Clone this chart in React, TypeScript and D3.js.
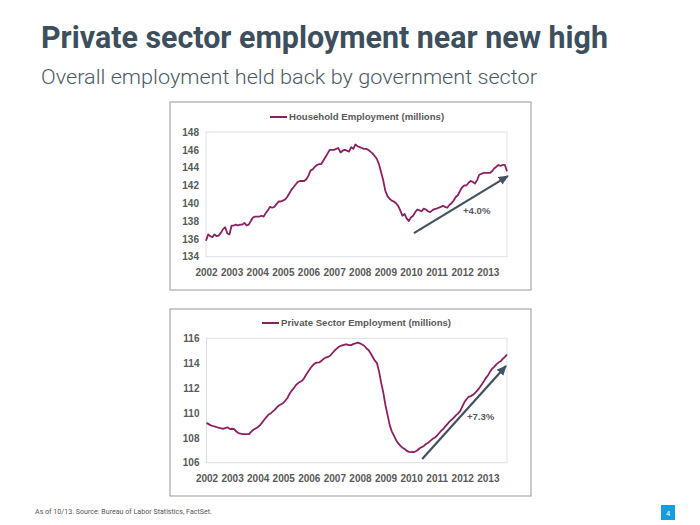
import { useEffect, useRef } from 'react'

import * as d3 from 'd3'

// Monthly values, Jan 2002 .. Oct 2013 (millions)
const householdEmployment = [
  135.8, 136.5, 136.3, 136.2, 136.5, 136.3, 136.4, 136.7, 137.1, 137.3, 136.6, 136.5, // 2002
  137.5, 137.5, 137.6, 137.5, 137.6, 137.6, 137.8, 137.5, 137.6, 138.0, 138.4, 138.5, // 2003
  138.5, 138.5, 138.6, 138.5, 138.9, 139.2, 139.6, 139.5, 139.6, 139.9, 140.2, 140.2, // 2004
  140.3, 140.4, 140.7, 141.1, 141.5, 141.8, 142.1, 142.4, 142.5, 142.5, 142.5, 142.7, // 2005
  143.1, 143.7, 143.8, 144.1, 144.3, 144.4, 144.4, 144.8, 145.2, 145.6, 146.0, 146.0, // 2006
  146.0, 146.1, 146.2, 145.7, 145.9, 146.0, 145.9, 145.8, 146.3, 146.1, 146.6, 146.4, // 2007
  146.3, 146.2, 146.1, 146.1, 146.0, 145.8, 145.6, 145.3, 145.0, 144.4, 143.5, 142.6, // 2008
  141.4, 140.8, 140.5, 140.3, 140.2, 140.0, 139.7, 139.2, 138.6, 138.8, 138.3, 138.0, // 2009
  138.4, 138.6, 139.0, 139.3, 139.2, 139.1, 139.4, 139.3, 139.1, 139.0, 139.2, 139.35, // 2010
  139.4, 139.5, 139.6, 139.7, 139.6, 139.5, 139.8, 140.0, 140.3, 140.7, 140.9, 141.4, // 2011
  141.8, 142.0, 142.0, 142.3, 142.5, 142.4, 142.2, 142.6, 143.2, 143.3, 143.4, 143.4, // 2012
  143.4, 143.4, 143.6, 143.9, 144.1, 144.3, 144.2, 144.3, 144.3, 143.6, // 2013
]

const privateEmployment = [
  109.2, 109.1, 109.0, 108.95, 108.9, 108.85, 108.8, 108.75, 108.73, 108.8, 108.84, 108.7, // 2002
  108.73, 108.7, 108.5, 108.38, 108.33, 108.3, 108.3, 108.3, 108.3, 108.5, 108.65, 108.75, // 2003
  108.85, 109.0, 109.2, 109.43, 109.65, 109.85, 109.95, 110.1, 110.25, 110.45, 110.6, 110.7, // 2004
  110.8, 111.0, 111.2, 111.55, 111.8, 112.0, 112.25, 112.4, 112.5, 112.6, 112.85, 113.15, // 2005
  113.4, 113.65, 113.85, 114.0, 114.05, 114.07, 114.2, 114.35, 114.45, 114.5, 114.6, 114.8, // 2006
  115.0, 115.15, 115.3, 115.4, 115.45, 115.5, 115.5, 115.45, 115.45, 115.55, 115.6, 115.65, // 2007
  115.6, 115.5, 115.4, 115.2, 115.06, 114.8, 114.5, 114.2, 114.0, 113.3, 112.4, 111.6, // 2008
  110.6, 109.8, 109.0, 108.5, 108.15, 107.8, 107.55, 107.35, 107.2, 107.1, 106.95, 106.87, // 2009
  106.85, 106.86, 106.9, 107.0, 107.16, 107.25, 107.35, 107.5, 107.6, 107.75, 107.9, 108.0, // 2010
  108.15, 108.35, 108.55, 108.7, 108.9, 109.1, 109.3, 109.45, 109.6, 109.8, 109.95, 110.15, // 2011
  110.5, 110.85, 111.1, 111.3, 111.35, 111.45, 111.6, 111.8, 112.0, 112.25, 112.5, 112.8, // 2012
  113.0, 113.3, 113.55, 113.7, 113.9, 114.05, 114.15, 114.35, 114.5, 114.7, // 2013
]

const yearLabels = ['2002', '2003', '2004', '2005', '2006', '2007', '2008', '2009', '2010', '2011', '2012', '2013']
const householdTicks = [134, 136, 138, 140, 142, 144, 146, 148]
const privateTicks = [106, 108, 110, 112, 114, 116]

// trend arrows: [month index, value] start -> end
const householdArrow: [number, number][] = [[97.4, 136.65], [141.4, 143.05]]
const privateArrow: [number, number][] = [[101.2, 106.3], [140.5, 113.77]]
const householdChange = { label: '+4.0%', at: [120.4, 138.85] }
const privateChange = { label: '+7.3%', at: [122.2, 109.47] }

const LINE = '#8b2062'
const ARROW = '#44525f'
const LABEL = '#595959'
const FONT = '"Liberation Sans", Arial, sans-serif'

type Panel = {
  box: { x: number; y: number; w: number; h: number }
  plot: { left: number; right: number; top: number; bottom: number }
  domain: [number, number]
  ticks: number[]
  legend: string
  legendX: number
  legendY: number
  values: number[]
  arrow: [number, number][]
  change: { label: string; at: number[] }
}

const panels: Panel[] = [
  {
    box: { x: 170, y: 102, w: 361, h: 188 },
    plot: { left: 206, right: 507, top: 132, bottom: 256.7 },
    domain: [134, 148],
    ticks: householdTicks,
    legend: 'Household Employment (millions)',
    legendX: 270,
    legendY: 117,
    values: householdEmployment,
    arrow: householdArrow,
    change: householdChange,
  },
  {
    box: { x: 170, y: 309, w: 361, h: 187 },
    plot: { left: 206.5, right: 507, top: 338.3, bottom: 462.7 },
    domain: [106, 116],
    ticks: privateTicks,
    legend: 'Private Sector Employment (millions)',
    legendX: 262,
    legendY: 323,
    values: privateEmployment,
    arrow: privateArrow,
    change: privateChange,
  },
]

const App = () => {
  const ref = useRef<SVGSVGElement>(null)

  useEffect(() => {
    const svg = d3.select(ref.current)
    svg.selectAll('*').remove()

    svg.append('rect').attr('width', 700).attr('height', 525).attr('fill', '#fff')

    // arrow head
    svg
      .append('defs')
      .append('marker')
      .attr('id', 'head')
      .attr('markerUnits', 'userSpaceOnUse')
      .attr('viewBox', '0 0 10 10')
      .attr('refX', 9)
      .attr('refY', 5)
      .attr('markerWidth', 10)
      .attr('markerHeight', 10)
      .attr('orient', 'auto')
      .append('path')
      .attr('d', 'M0,0.5 L10,5 L0,9.5 Z')
      .attr('fill', ARROW)

    // Titulos
    svg
      .append('text')
      .attr('x', 41)
      .attr('y', 47.5)
      .attr('font-family', 'Roboto, sans-serif')
      .attr('font-weight', 700)
      .attr('font-size', 31)
      .attr('fill', '#3d4f5c')
      .attr('textLength', 567)
      .attr('lengthAdjust', 'spacingAndGlyphs')
      .text('Private sector employment near new high')

    svg
      .append('text')
      .attr('x', 41)
      .attr('y', 83.5)
      .attr('font-family', 'Roboto, sans-serif')
      .attr('font-weight', 300)
      .attr('font-size', 21)
      .attr('fill', '#4a5a66')
      .attr('textLength', 496)
      .attr('lengthAdjust', 'spacingAndGlyphs')
      .text('Overall employment held back by government sector')

    panels.forEach((p) => {
      const n = p.values.length
      const x = d3.scaleLinear().domain([0, n - 1]).range([p.plot.left, p.plot.right])
      const y = d3.scaleLinear().domain(p.domain).range([p.plot.bottom, p.plot.top])

      // moldura do painel
      svg
        .append('rect')
        .attr('x', p.box.x)
        .attr('y', p.box.y)
        .attr('width', p.box.w)
        .attr('height', p.box.h)
        .attr('fill', 'none')
        .attr('stroke', '#a3aaaf')
        .attr('stroke-width', 1.2)

      // area do grafico
      svg
        .append('rect')
        .attr('x', p.plot.left)
        .attr('y', p.plot.top)
        .attr('width', p.plot.right - p.plot.left)
        .attr('height', p.plot.bottom - p.plot.top)
        .attr('fill', 'none')
        .attr('stroke', '#dde1e5')
        .attr('stroke-width', 1)

      // eixo Y
      const yAxis = svg
        .append('g')
        .attr('transform', `translate(${p.plot.left},0)`)
        .call(d3.axisLeft(y).tickValues(p.ticks).tickSize(0).tickPadding(7).tickFormat(d3.format('d')))
      yAxis.select('.domain').remove()
      yAxis
        .selectAll('text')
        .attr('font-family', FONT)
        .attr('font-size', 10)
        .attr('font-weight', 700)
        .attr('fill', LABEL)

      // eixo X
      const xAxis = svg
        .append('g')
        .attr('transform', `translate(0,${p.plot.bottom})`)
        .call(
          d3
            .axisBottom(x)
            .tickValues(yearLabels.map((_, i) => i * 12))
            .tickSize(0)
            .tickPadding(12)
            .tickFormat((d) => yearLabels[(d as number) / 12])
        )
      xAxis.select('.domain').remove()
      xAxis
        .selectAll('text')
        .attr('font-family', FONT)
        .attr('font-size', 10)
        .attr('font-weight', 700)
        .attr('fill', LABEL)

      // legenda
      svg
        .append('line')
        .attr('x1', p.legendX)
        .attr('x2', p.legendX + 17)
        .attr('y1', p.legendY)
        .attr('y2', p.legendY)
        .attr('stroke', LINE)
        .attr('stroke-width', 2)
      svg
        .append('text')
        .attr('x', p.legendX + 19)
        .attr('y', p.legendY + 3.4)
        .attr('font-family', FONT)
        .attr('font-size', 9.6)
        .attr('font-weight', 700)
        .attr('fill', LABEL)
        .text(p.legend)

      // linha
      const line = d3
        .line<number>()
        .x((_, i) => x(i))
        .y((d) => y(d))
      svg
        .append('path')
        .datum(p.values)
        .attr('d', line)
        .attr('fill', 'none')
        .attr('stroke', LINE)
        .attr('stroke-width', 1.8)
        .attr('stroke-linejoin', 'round')

      // seta de tendencia
      svg
        .append('line')
        .attr('x1', x(p.arrow[0][0]))
        .attr('y1', y(p.arrow[0][1]))
        .attr('x2', x(p.arrow[1][0]))
        .attr('y2', y(p.arrow[1][1]))
        .attr('stroke', ARROW)
        .attr('stroke-width', 2.2)
        .attr('marker-end', 'url(#head)')

      svg
        .append('text')
        .attr('x', x(p.change.at[0]))
        .attr('y', y(p.change.at[1]))
        .attr('font-family', FONT)
        .attr('font-size', 9.6)
        .attr('font-weight', 700)
        .attr('fill', LABEL)
        .text(p.change.label)
    })

    // rodape
    svg
      .append('text')
      .attr('x', 35)
      .attr('y', 514)
      .attr('font-family', 'Roboto, sans-serif')
      .attr('font-size', 7.5)
      .attr('fill', '#555')
      .attr('textLength', 177)
      .attr('lengthAdjust', 'spacingAndGlyphs')
      .text('As of 10/13. Source: Bureau of Labor Statistics, FactSet.')

    svg.append('rect').attr('x', 661).attr('y', 505).attr('width', 14).attr('height', 15).attr('fill', '#129ede')
    svg
      .append('text')
      .attr('x', 668)
      .attr('y', 515.5)
      .attr('text-anchor', 'middle')
      .attr('font-family', 'Roboto, sans-serif')
      .attr('font-size', 7.5)
      .attr('fill', '#fff')
      .text('4')
  }, [])

  return (
    <svg
      ref={ref}
      width={700}
      height={525}
      style={{ position: 'absolute', left: 0, top: 0 }}
    />
  )
}

export default App
